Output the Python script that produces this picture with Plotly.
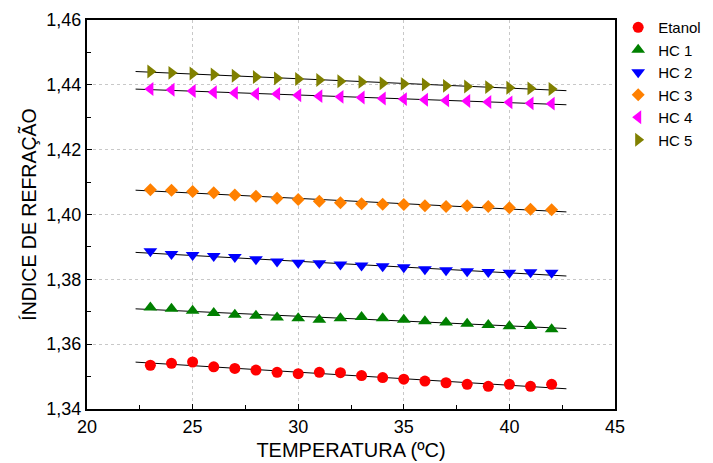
import numpy as np
import plotly.graph_objects as go

temperatura = list(range(23, 43))

etanol = [1.3535, 1.3541, 1.3545, 1.3530, 1.3525, 1.3520, 1.3513, 1.3509, 1.3513, 1.3512,
          1.3503, 1.3497, 1.3492, 1.3486, 1.3481, 1.3476, 1.3470, 1.3476, 1.3470, 1.3476]
hc1 = [1.3713, 1.3709, 1.3703, 1.3696, 1.3691, 1.3688, 1.3682, 1.3680, 1.3675, 1.3680,
       1.3684, 1.3680, 1.3675, 1.3671, 1.3667, 1.3663, 1.3659, 1.3655, 1.3656, 1.3646]
hc2 = [1.3887, 1.3878, 1.3875, 1.3872, 1.3869, 1.3862, 1.3855, 1.3851, 1.3850, 1.3846,
       1.3843, 1.3840, 1.3837, 1.3831, 1.3828, 1.3825, 1.3823, 1.3820, 1.3822, 1.3820]
hc3 = [1.4076, 1.4075, 1.4071, 1.4067, 1.4060, 1.4056, 1.4050, 1.4046, 1.4041, 1.4036,
       1.4033, 1.4032, 1.4031, 1.4027, 1.4025, 1.4027, 1.4025, 1.4021, 1.4016, 1.4015]
hc4 = [1.4387, 1.4385, 1.4381, 1.4377, 1.4375, 1.4372, 1.4372, 1.4368, 1.4365, 1.4363,
       1.4361, 1.4358, 1.4356, 1.4354, 1.4352, 1.4350, 1.4347, 1.4346, 1.4343, 1.4342]
hc5 = [1.4441, 1.4437, 1.4435, 1.4432, 1.4428, 1.4424, 1.4420, 1.4418, 1.4415, 1.4411,
       1.4409, 1.4405, 1.4403, 1.4401, 1.4397, 1.4395, 1.4393, 1.4391, 1.4389, 1.4387]

series_names = ["Etanol", "HC 1", "HC 2", "HC 3", "HC 4", "HC 5"]
series_values = [etanol, hc1, hc2, hc3, hc4, hc5]
fit_range = [22.3, 42.7]

styles = [
    dict(symbol="circle", color="#FF0000", size=11),
    dict(symbol="triangle-up", color="#008000", size=12),
    dict(symbol="triangle-down", color="#0000FF", size=12),
    dict(symbol="diamond", color="#FF8000", size=10),
    dict(symbol="triangle-left", color="#FF00FF", size=12),
    dict(symbol="triangle-right", color="#808000", size=12),
]

FONT = "Liberation Sans, Arial, sans-serif"
fig = go.Figure()

# regression lines
for vals in series_values:
    m, b = np.polyfit(temperatura, vals, 1)
    xs = np.array(fit_range)
    fig.add_trace(go.Scatter(x=xs, y=m * xs + b, mode="lines",
                             line=dict(color="black", width=1),
                             showlegend=False, hoverinfo="skip"))

for name, vals, st in zip(series_names, series_values, styles):
    fig.add_trace(go.Scatter(x=temperatura, y=vals, mode="markers", name=name,
                             marker=dict(symbol=st["symbol"], color=st["color"],
                                         size=st["size"], line=dict(width=0))))

fig.update_layout(
    width=713, height=463,
    margin=dict(l=79, r=106, t=12, b=62, autoexpand=False),
    paper_bgcolor="white", plot_bgcolor="white",
    separators=",.",
    font=dict(family=FONT, color="black"),
    legend=dict(x=1.006, xanchor="left", y=1.023, yanchor="top",
                font=dict(size=15, family=FONT), bgcolor="rgba(0,0,0,0)",
                itemwidth=30, tracegroupgap=0, borderwidth=0),
)

fig.update_xaxes(
    range=[20, 45], tickvals=[20, 25, 30, 35, 40, 45],
    ticks="inside", ticklen=5, tickcolor="black",
    minor=dict(tickvals=[22.5, 27.5, 32.5, 37.5, 42.5], ticks="inside", ticklen=4, tickcolor="black",
               showgrid=False),
    showline=True, linecolor="black", linewidth=2, mirror=True,
    showgrid=True, gridcolor="#C8C8C8", griddash="dot", gridwidth=1,
    tickfont=dict(size=18, family=FONT),
    title=dict(text="TEMPERATURA (ºC)", font=dict(size=20, family=FONT), standoff=7),
    zeroline=False, automargin=False,
)
fig.update_yaxes(
    range=[1.34, 1.46], tickvals=[1.34, 1.36, 1.38, 1.40, 1.42, 1.44, 1.46], tickformat=".2f",
    ticks="inside", ticklen=5, tickcolor="black",
    minor=dict(tickvals=[1.35, 1.37, 1.39, 1.41, 1.43, 1.45], ticks="inside", ticklen=4, tickcolor="black",
               showgrid=False),
    showline=True, linecolor="black", linewidth=2, mirror=True,
    showgrid=True, gridcolor="#C8C8C8", griddash="dot", gridwidth=1,
    tickfont=dict(size=18, family=FONT),
    title=dict(text="ÍNDICE DE REFRAÇÃO", font=dict(size=19.5, family=FONT), standoff=5),
    zeroline=False, automargin=False,
)

fig.write_html("out.html")
